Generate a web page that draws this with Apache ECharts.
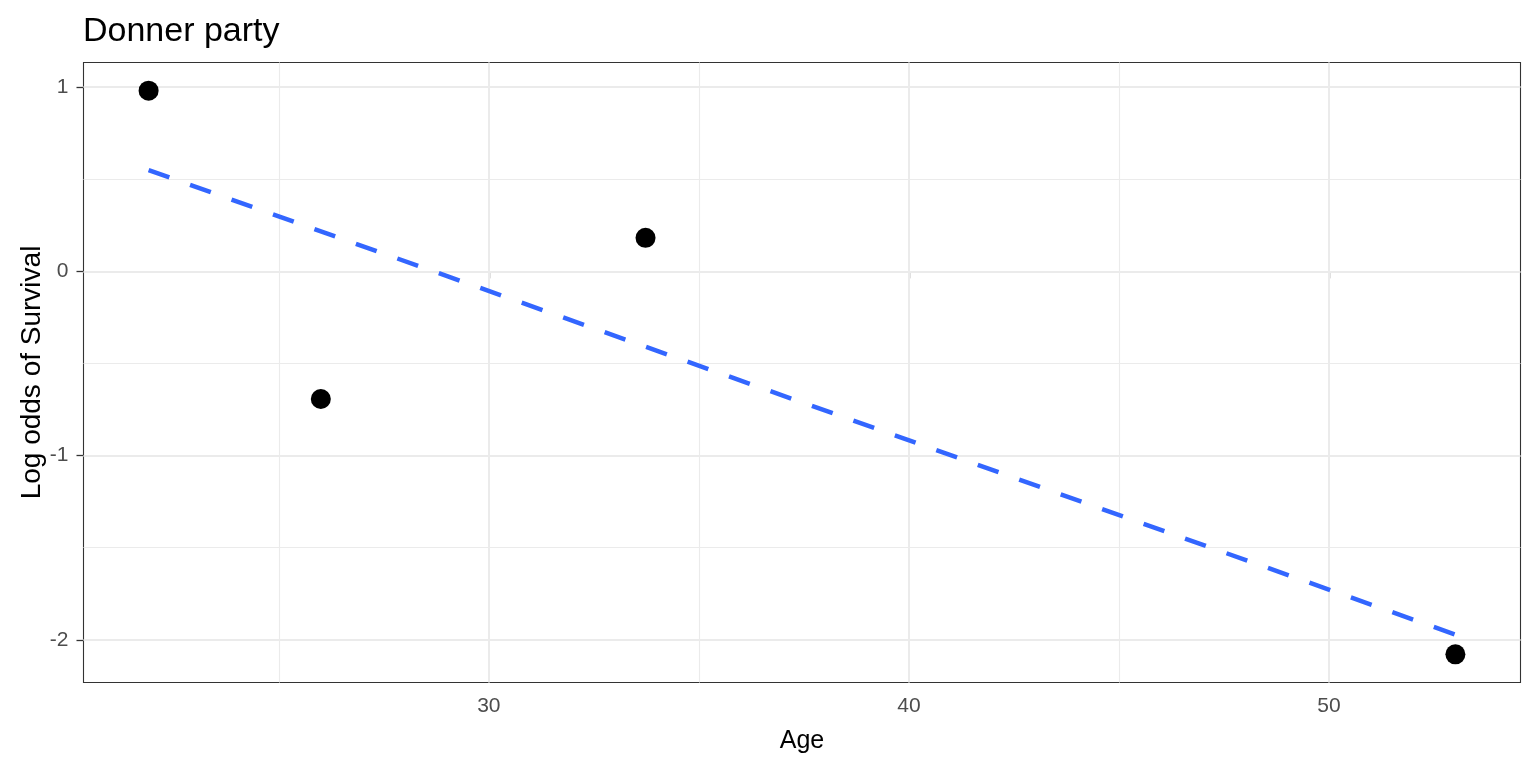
<!DOCTYPE html>
<html>
<head>
<meta charset="utf-8">
<script src="https://cdn.jsdelivr.net/npm/echarts@6/dist/echarts.min.js"></script>
<style>
html,body{margin:0;padding:0;background:#fff;}
#chart{width:1536px;height:768px;}
</style>
</head>
<body>
<div id="chart"></div>
<script>
// Data
var ageGroups = [21.9, 26.0, 33.73, 53.01];
var logOdds = [0.981, -0.693, 0.182, -2.079];
var fitAge = [21.9, 53.01];
var fitLogOdds = [0.55, -1.972];
var xTicks = [30, 40, 50];
var yTicks = [-2, -1, 0, 1];
var xMinorGrid = [25, 35, 45];
var yMinorGrid = [-1.5, -0.5, 0.5];
var xRange = [20.35, 54.56];
var yRange = [-2.232, 1.134];

var FONT = 'Liberation Sans, Arial, Helvetica, sans-serif';
var chart = echarts.init(document.getElementById('chart'), null, {renderer: 'canvas'});

function gridLines(vals, axisKey, width) {
  return vals.map(function (v) {
    var o = {}; o[axisKey] = v;
    o.lineStyle = {color: '#ebebeb', width: width, type: 'solid'};
    return o;
  });
}

var option = {
  animation: false,
  backgroundColor: '#ffffff',
  title: {
    text: 'Donner party',
    left: 78,
    top: 10,
    textStyle: {fontFamily: FONT, fontSize: 34, fontWeight: 'normal', color: '#000'}
  },
  grid: {
    left: 83.5, right: 15.5, top: 62.5, bottom: 85.5,
    show: true, borderColor: '#333333', borderWidth: 1.1, backgroundColor: 'transparent',
    containLabel: false
  },
  xAxis: {
    type: 'value', min: xRange[0], max: xRange[1],
    name: 'Age', nameLocation: 'middle', nameGap: 46, nameMoveOverlap: false,
    nameTextStyle: {fontFamily: FONT, fontSize: 25, color: '#000'},
    axisLine: {show: false},
    splitLine: {show: false},
    axisTick: {show: true, inside: false, customValues: xTicks, length: 7, lineStyle: {color: '#333333', width: 1.3}},
    axisLabel: {show: true, customValues: xTicks, margin: 13, fontFamily: FONT, fontSize: 21, color: '#4d4d4d'}
  },
  yAxis: {
    type: 'value', min: yRange[0], max: yRange[1],
    name: 'Log odds of Survival', nameLocation: 'middle', nameGap: 37, nameMoveOverlap: false,
    nameTextStyle: {fontFamily: FONT, fontSize: 28, color: '#000'},
    axisLine: {show: false},
    splitLine: {show: false},
    axisTick: {show: true, inside: false, customValues: yTicks, length: 7, lineStyle: {color: '#333333', width: 1.3}},
    axisLabel: {show: true, customValues: yTicks, margin: 15, fontFamily: FONT, fontSize: 21, color: '#4d4d4d'}
  },
  series: [
    {
      type: 'line', data: [], z: 1, silent: true,
      markLine: {
        z: 1,
        silent: true, symbol: ['none', 'none'], label: {show: false}, animation: false,
        data: [].concat(
          gridLines(xMinorGrid, 'xAxis', 1.1),
          gridLines(yMinorGrid, 'yAxis', 1.1),
          gridLines(xTicks, 'xAxis', 2),
          gridLines(yTicks, 'yAxis', 2)
        )
      }
    },
    {
      type: 'line', z: 3,
      data: fitAge.map(function (a, i) { return [a, fitLogOdds[i]]; }),
      showSymbol: false, symbol: 'none',
      lineStyle: {color: '#3366FF', width: 4.5, type: [22, 22], cap: 'butt'}
    },
    {
      type: 'scatter', z: 4,
      data: ageGroups.map(function (a, i) { return [a, logOdds[i]]; }),
      symbol: 'circle', symbolSize: 20,
      itemStyle: {color: '#000000', opacity: 1}
    }
  ]
};
chart.setOption(option);
</script>
</body>
</html>
